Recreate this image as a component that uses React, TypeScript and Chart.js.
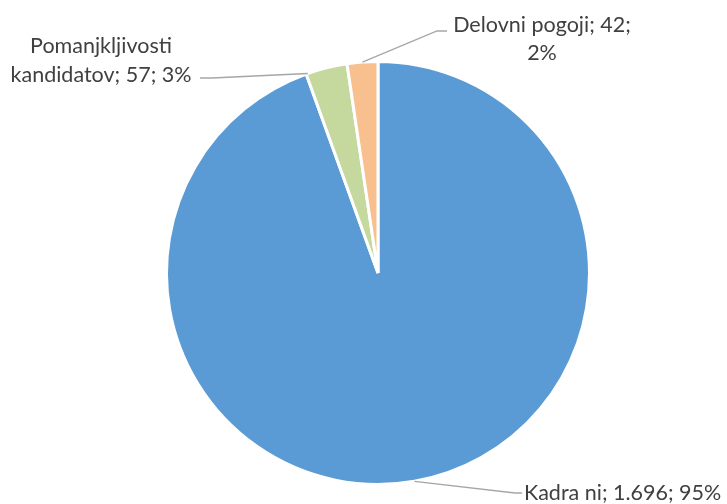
import React, { useEffect, useRef } from "react";
import { Chart, registerables } from "chart.js";

Chart.register(...registerables);

const categories = ["Kadra ni", "Pomanjkljivosti kandidatov", "Delovni pogoji"];
const values = [1696, 57, 42];
const labelLines = [["Kadra ni; 1.696; 95%"], ["Pomanjkljivosti", "kandidatov; 57; 3%"], ["Delovni pogoji; 42;", "2%"]];
const colors = ["#5B9BD5", "#C5D89D", "#F9C08F"];

const labelPlugin = {
  id: "excelLabels",
  afterDraw(chart: any, _args: any, opts: any) {
    const ctx = chart.ctx;
    const meta = chart.getDatasetMeta(0);
    const cfg = opts.items;
    ctx.save();
    ctx.font = opts.font;
    ctx.fillStyle = opts.color;
    meta.data.forEach((arc: any, i: number) => {
      const c = cfg[i];
      const p = arc.getProps(["x", "y", "startAngle", "endAngle", "outerRadius"], true);
      const a = p.startAngle + (p.endAngle - p.startAngle) * c.anchor;
      const sx = p.x + Math.cos(a) * p.outerRadius;
      const sy = p.y + Math.sin(a) * p.outerRadius;
      ctx.strokeStyle = "#A6A6A6";
      ctx.lineWidth = 1.3;
      ctx.beginPath();
      ctx.moveTo(sx, sy);
      ctx.lineTo(c.ex, c.ey);
      ctx.lineTo(c.hx, c.ey);
      ctx.stroke();
      ctx.textBaseline = "middle";
      ctx.textAlign = c.align;
      labelLines[i].forEach((line, j) => {
        ctx.fillText(line, c.tx, c.ty + j * c.lh);
      });
    });
    ctx.restore();
  },
};

export default function App() {
  const ref = useRef<HTMLCanvasElement>(null);
  useEffect(() => {
    const chart = new Chart(ref.current!, {
      type: "pie",
      data: {
        labels: categories,
        datasets: [
          {
            data: values,
            backgroundColor: colors,
            borderColor: "#FFFFFF",
            borderWidth: 3,
          },
        ],
      },
      options: {
        animation: false,
        responsive: false,
        layout: { padding: { top: 60, bottom: 18, left: 164, right: 135 } },
        plugins: {
          legend: { display: false },
          tooltip: { enabled: false },
          excelLabels: {
            font: "21.5px Lato",
            color: "#404040",
            items: [
              { anchor: 0.5, ex: 515, ey: 493, hx: 522, tx: 524, ty: 493, align: "left", lh: 0 },
              { anchor: 0.04, ex: 212, ey: 78, hx: 200, tx: 101, ty: 46, align: "center", lh: 29 },
              { anchor: 0.5, ex: 437, ey: 31, hx: 447, tx: 542, ty: 25, align: "center", lh: 28 },
            ],
          },
        } as any,
      },
      plugins: [labelPlugin],
    });
    return () => chart.destroy();
  }, []);
  return (
    <div style={{ position: "absolute", left: 0, top: 0, width: 727, height: 504, background: "#fff" }}>
      <canvas ref={ref} width={727} height={504} />
    </div>
  );
}
